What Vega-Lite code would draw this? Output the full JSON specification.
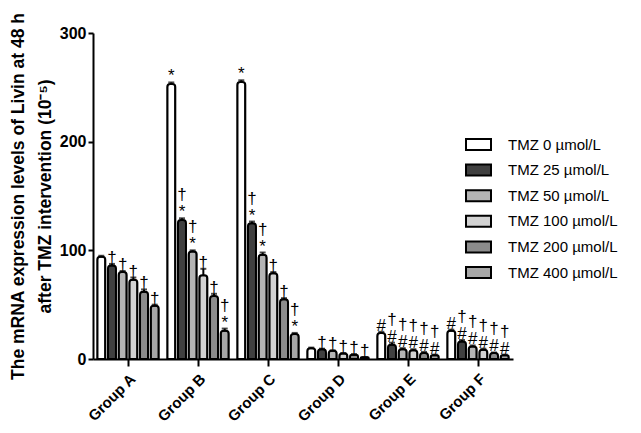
{
  "$schema": "https://vega.github.io/schema/vega-lite/v6.json",
  "width": 420,
  "height": 326,
  "autosize": "none",
  "padding": {"left": 93, "top": 33, "right": 128, "bottom": 74},
  "background": "white",
  "config": {
    "view": {"stroke": null},
    "font": "Liberation Sans"
  },
  "data": {
    "values": [
      {"group": "Group A", "dose": "TMZ 0 µmol/L", "value": 94, "err": 1, "lo": "", "up": ""},
      {"group": "Group A", "dose": "TMZ 25 µmol/L", "value": 86, "err": 1.5, "lo": "†", "up": ""},
      {"group": "Group A", "dose": "TMZ 50 µmol/L", "value": 80, "err": 1, "lo": "†", "up": ""},
      {"group": "Group A", "dose": "TMZ 100 µmol/L", "value": 73, "err": 2, "lo": "†", "up": ""},
      {"group": "Group A", "dose": "TMZ 200 µmol/L", "value": 62, "err": 2, "lo": "†", "up": ""},
      {"group": "Group A", "dose": "TMZ 400 µmol/L", "value": 49, "err": 1, "lo": "†", "up": ""},
      {"group": "Group B", "dose": "TMZ 0 µmol/L", "value": 253, "err": 1.5, "lo": "*", "up": ""},
      {"group": "Group B", "dose": "TMZ 25 µmol/L", "value": 128, "err": 1.5, "lo": "*", "up": "†"},
      {"group": "Group B", "dose": "TMZ 50 µmol/L", "value": 99, "err": 1, "lo": "*", "up": "†"},
      {"group": "Group B", "dose": "TMZ 100 µmol/L", "value": 77, "err": 6, "lo": "†", "up": ""},
      {"group": "Group B", "dose": "TMZ 200 µmol/L", "value": 58, "err": 2, "lo": "†", "up": ""},
      {"group": "Group B", "dose": "TMZ 400 µmol/L", "value": 26, "err": 2, "lo": "*", "up": "†"},
      {"group": "Group C", "dose": "TMZ 0 µmol/L", "value": 255, "err": 1.5, "lo": "*", "up": ""},
      {"group": "Group C", "dose": "TMZ 25 µmol/L", "value": 125, "err": 1.5, "lo": "*", "up": "†"},
      {"group": "Group C", "dose": "TMZ 50 µmol/L", "value": 96, "err": 2, "lo": "*", "up": "†"},
      {"group": "Group C", "dose": "TMZ 100 µmol/L", "value": 79, "err": 1, "lo": "†", "up": ""},
      {"group": "Group C", "dose": "TMZ 200 µmol/L", "value": 55, "err": 1, "lo": "†", "up": ""},
      {"group": "Group C", "dose": "TMZ 400 µmol/L", "value": 23, "err": 1, "lo": "*", "up": "†"},
      {"group": "Group D", "dose": "TMZ 0 µmol/L", "value": 10, "err": 0.5, "lo": "", "up": ""},
      {"group": "Group D", "dose": "TMZ 25 µmol/L", "value": 9, "err": 0.5, "lo": "†", "up": ""},
      {"group": "Group D", "dose": "TMZ 50 µmol/L", "value": 7.5, "err": 0.5, "lo": "†", "up": ""},
      {"group": "Group D", "dose": "TMZ 100 µmol/L", "value": 5, "err": 0.5, "lo": "†", "up": ""},
      {"group": "Group D", "dose": "TMZ 200 µmol/L", "value": 4, "err": 0.5, "lo": "†", "up": ""},
      {"group": "Group D", "dose": "TMZ 400 µmol/L", "value": 1.5, "err": 0.3, "lo": "†", "up": ""},
      {"group": "Group E", "dose": "TMZ 0 µmol/L", "value": 24, "err": 1, "lo": "#", "up": ""},
      {"group": "Group E", "dose": "TMZ 25 µmol/L", "value": 13, "err": 2, "lo": "#", "up": "†"},
      {"group": "Group E", "dose": "TMZ 50 µmol/L", "value": 9, "err": 1, "lo": "#", "up": "†"},
      {"group": "Group E", "dose": "TMZ 100 µmol/L", "value": 8, "err": 1, "lo": "#", "up": "†"},
      {"group": "Group E", "dose": "TMZ 200 µmol/L", "value": 5.5, "err": 1, "lo": "#", "up": "†"},
      {"group": "Group E", "dose": "TMZ 400 µmol/L", "value": 3.5, "err": 0.5, "lo": "#", "up": "†"},
      {"group": "Group F", "dose": "TMZ 0 µmol/L", "value": 26, "err": 1, "lo": "#", "up": ""},
      {"group": "Group F", "dose": "TMZ 25 µmol/L", "value": 16, "err": 1.5, "lo": "#", "up": "†"},
      {"group": "Group F", "dose": "TMZ 50 µmol/L", "value": 11.5, "err": 1, "lo": "#", "up": "†"},
      {"group": "Group F", "dose": "TMZ 100 µmol/L", "value": 8.5, "err": 1, "lo": "#", "up": "†"},
      {"group": "Group F", "dose": "TMZ 200 µmol/L", "value": 5.5, "err": 0.5, "lo": "#", "up": "†"},
      {"group": "Group F", "dose": "TMZ 400 µmol/L", "value": 3.5, "err": 0.5, "lo": "#", "up": "†"}
    ]
  },
  "transform": [{"calculate": "datum.value + datum.err", "as": "hi"}],
  "encoding": {
    "x": {
      "field": "group", "type": "nominal", "sort": null,
      "scale": {"paddingInner": 0, "paddingOuter": 0},
      "axis": {
        "title": null,
        "labelAngle": -45, "labelAlign": "right", "labelBaseline": "top",
        "labelFont": "Liberation Sans", "labelFontWeight": "bold", "labelFontSize": 15, "labelColor": "black",
        "labelPadding": 5,
        "domainColor": "black", "domainWidth": 2,
        "tickColor": "black", "tickWidth": 2, "tickSize": 7
      }
    },
    "xOffset": {
      "field": "dose", "type": "nominal", "sort": null,
      "scale": {"paddingInner": 0.25, "paddingOuter": 0.4}
    }
  },
  "layer": [
    {
      "mark": {"type": "bar", "stroke": "black", "strokeWidth": 2, "cornerRadiusEnd": 3},
      "encoding": {
        "y": {
          "field": "value", "type": "quantitative",
          "scale": {"domain": [0, 300], "nice": false},
          "axis": {
            "values": [0, 100, 200, 300],
            "grid": false,
            "title": ["The mRNA expression levels of Livin at 48 h", "after TMZ intervention (10⁻⁵)"],
            "titleFont": "Liberation Sans", "titleFontWeight": "bold", "titleFontSize": 17.5, "titleColor": "black",
            "titleLineHeight": 27, "titlePadding": 5,
            "labelFont": "Liberation Sans", "labelFontWeight": "bold", "labelFontSize": 16, "labelColor": "black",
            "labelPadding": 2,
            "domainColor": "black", "domainWidth": 2,
            "tickColor": "black", "tickWidth": 2, "tickSize": 5
          }
        },
        "fill": {
          "field": "dose", "type": "nominal", "sort": null,
          "scale": {"range": ["#ffffff", "#404040", "#b4b4b4", "#d2d2d2", "#8c8c8c", "#a8a8a8"]},
          "legend": {
            "title": null,
            "orient": "none", "legendX": 372, "legendY": 98,
            "padding": 0,
            "symbolType": "M-1,-0.44L1,-0.44L1,0.44L-1,0.44Z",
            "symbolSize": 625,
            "symbolStrokeColor": "black", "symbolStrokeWidth": 2,
            "labelFont": "Liberation Sans", "labelFontSize": 15, "labelColor": "black",
            "labelOffset": 16,
            "rowPadding": 2.6
          }
        }
      }
    },
    {
      "mark": {"type": "rule", "stroke": "black", "strokeWidth": 2},
      "encoding": {
        "y": {"field": "value", "type": "quantitative"},
        "y2": {"field": "hi"}
      }
    },
    {
      "mark": {"type": "tick", "color": "black", "thickness": 2, "size": 6},
      "encoding": {
        "y": {"field": "hi", "type": "quantitative"}
      }
    },
    {
      "mark": {"type": "text", "baseline": "alphabetic", "dy": -1, "fontSize": 17, "font": "Liberation Sans", "color": "black"},
      "encoding": {
        "y": {"field": "hi", "type": "quantitative"},
        "text": {"field": "lo"}
      }
    },
    {
      "mark": {"type": "text", "baseline": "alphabetic", "dy": -18, "fontSize": 17, "font": "Liberation Sans", "color": "black"},
      "encoding": {
        "y": {"field": "hi", "type": "quantitative"},
        "text": {"field": "up"}
      }
    }
  ]
}
